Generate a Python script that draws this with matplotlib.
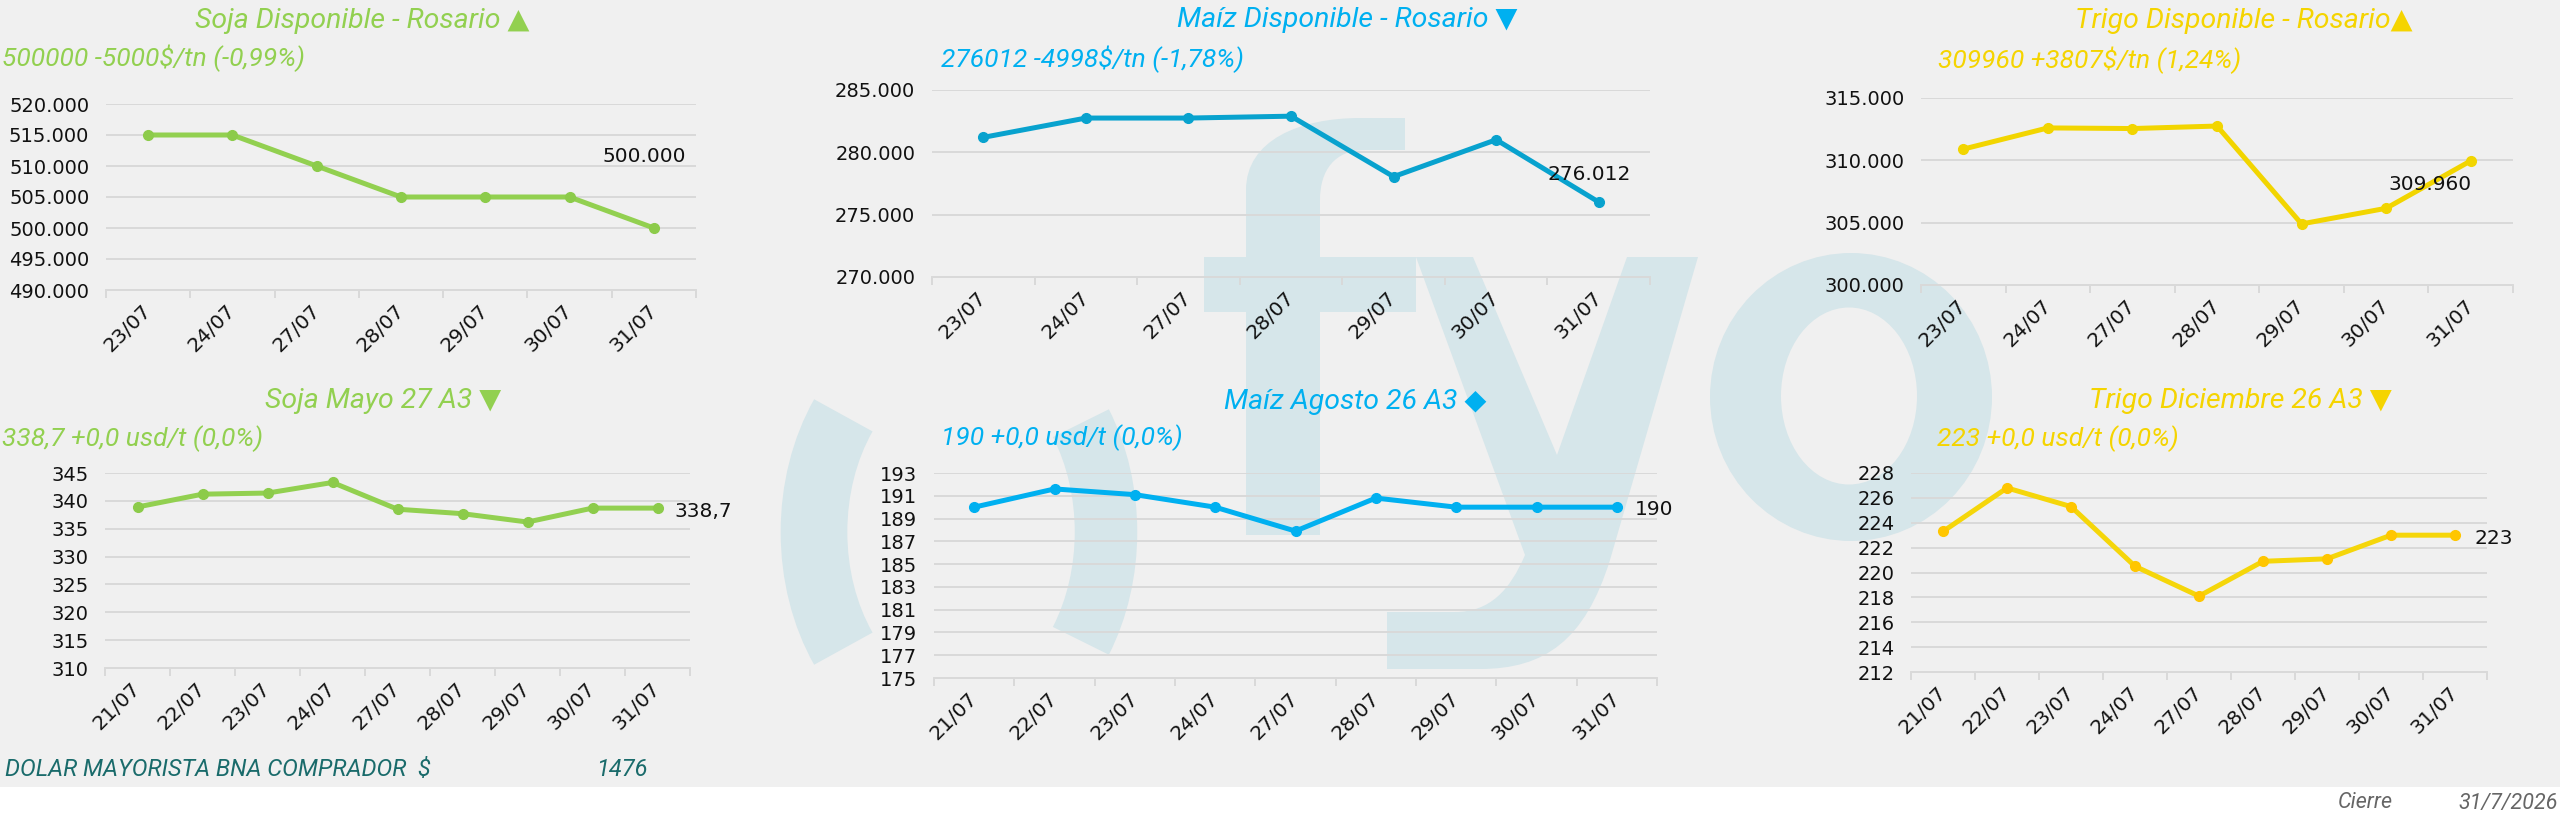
import numpy as np
import matplotlib
matplotlib.use('Agg')
import matplotlib.pyplot as plt
from matplotlib.patches import Rectangle, Ellipse, Arc, PathPatch
from matplotlib.path import Path
from matplotlib.ticker import FuncFormatter

# ---------------- data ----------------
dates_top = ['23/07', '24/07', '27/07', '28/07', '29/07', '30/07', '31/07']
dates_bottom = ['21/07', '22/07', '23/07', '24/07', '27/07', '28/07', '29/07', '30/07', '31/07']

soja_disp = [515000, 515000, 510000, 505000, 505000, 505000, 500000]
maiz_disp = [281200, 282750, 282750, 282900, 278050, 281010, 276012]
trigo_disp = [310900, 312600, 312550, 312750, 304900, 306153, 309960]
soja_mayo27 = [338.9, 341.2, 341.4, 343.3, 338.5, 337.7, 336.2, 338.7, 338.7]
maiz_ago26 = [190.0, 191.6, 191.1, 190.0, 187.9, 190.8, 190.0, 190.0, 190.0]
trigo_dic26 = [223.3, 226.8, 225.3, 220.5, 218.1, 220.9, 221.1, 223.0, 223.0]

titles = ['Soja Disponible - Rosario \u25B2', 'Ma\u00edz Disponible - Rosario \u25BC',
          'Trigo Disponible - Rosario\u25B2', 'Soja Mayo 27 A3 \u25BC',
          'Ma\u00edz Agosto 26 A3 \u25C6', 'Trigo Diciembre 26 A3 \u25BC']
subtitles = ['500000 -5000$/tn (-0,99%)', '276012 -4998$/tn (-1,78%)',
             '309960 +3807$/tn (1,24%)', '338,7 +0,0 usd/t (0,0%)',
             '190 +0,0 usd/t (0,0%)', '223 +0,0 usd/t (0,0%)']
dolar_label = 'DOLAR MAYORISTA BNA COMPRADOR  $'
dolar_value = '1476'
footer_label = 'Cierre'
footer_date = '31/7/2026'

# ---------------- layout ----------------
W, H = 2560, 819
fig = plt.figure(figsize=(W / 100, H / 100), dpi=100)
fig.patch.set_facecolor('white')

BG = '#F0F0F0'
WM = '#D6E6EA'
GRID = '#D9D9D9'
GREEN = '#92D050'
BLUE = '#00B0F0'
BLUE_D = '#08A2CE'
YEL = '#F5D400'
YEL_L = '#F2D500'
TEAL = '#1A6B6B'
FONT = ['Roboto', 'DejaVu Sans']

bg = fig.add_axes([0, 0, 1, 1], zorder=-10)
bg.set_xlim(0, W)
bg.set_ylim(H, 0)
bg.axis('off')
bg.add_patch(Rectangle((0, 0), W, 787, fc=BG, ec='none', zorder=0))

# watermark "( ) fyo"
bg.add_patch(Arc((960, 532), 292, 388, theta1=135, theta2=225, lw=48, color=WM, zorder=1))
bg.add_patch(Arc((960, 532), 292, 388, theta1=-42, theta2=42, lw=45, color=WM, zorder=1))
bg.add_patch(Rectangle((1246, 190), 74, 345, fc=WM, ec='none', zorder=1))
bg.add_patch(Rectangle((1204, 257), 212, 55, fc=WM, ec='none', zorder=1))
hook = Path([(1246, 240), (1246, 190), (1246, 140), (1300, 118), (1360, 118),
             (1405, 118), (1405, 150), (1365, 150), (1335, 150), (1320, 170),
             (1320, 200), (1320, 240), (1246, 240)],
            [Path.MOVETO, Path.LINETO, Path.CURVE4, Path.CURVE4, Path.CURVE4,
             Path.LINETO, Path.LINETO, Path.LINETO, Path.CURVE4, Path.CURVE4,
             Path.CURVE4, Path.LINETO, Path.CLOSEPOLY])
bg.add_patch(PathPatch(hook, fc=WM, ec='none', zorder=1))
ypath = Path([(1416, 257), (1473, 257), (1557, 455), (1627, 257), (1698, 257),
              (1610, 560), (1585, 640), (1545, 669), (1480, 669), (1387, 669),
              (1387, 612), (1455, 612), (1490, 612), (1510, 590), (1525, 555),
              (1416, 257)],
             [Path.MOVETO, Path.LINETO, Path.LINETO, Path.LINETO, Path.LINETO,
              Path.LINETO, Path.CURVE4, Path.CURVE4, Path.CURVE4, Path.LINETO,
              Path.LINETO, Path.LINETO, Path.CURVE4, Path.CURVE4, Path.CURVE4,
              Path.CLOSEPOLY])
bg.add_patch(PathPatch(ypath, fc=WM, ec='none', zorder=1))
bg.add_patch(Ellipse((1851, 397), 282, 288, fc=WM, ec='none', zorder=1))
bg.add_patch(Ellipse((1849, 396), 136, 177, fc=BG, ec='none', zorder=1))


def rect(x0, y0, x1, y1):
    return [x0 / W, 1 - y1 / H, (x1 - x0) / W, (y1 - y0) / H]


def thousands(v, pos=None):
    return f'{int(round(v)):,}'.replace(',', '.')


def integer(v, pos=None):
    return f'{v:.0f}'


def onedec(v, pos=None):
    return f'{v:.1f}'.replace('.', ',')


panels = [
    dict(vals=soja_disp, dates=dates_top, box=(106, 104, 696, 290), ylim=(490000, 520000, 5000),
         fmt=thousands, lfmt=thousands, lc=GREEN, mc='#8CCB4A', off=(-10, 72), ha='center',
         tc=GREEN, tx=362, ty=21, sx=2, sy=58),
    dict(vals=maiz_disp, dates=dates_top, box=(932, 90, 1650, 277), ylim=(270000, 285000, 5000),
         fmt=thousands, lfmt=thousands, lc=BLUE_D, mc=BLUE_D, off=(-10, 28), ha='center',
         tc=BLUE, tx=1347, ty=20, sx=941, sy=59),
    dict(vals=trigo_disp, dates=dates_top, box=(1921, 98, 2513, 285), ylim=(300000, 315000, 5000),
         fmt=thousands, lfmt=thousands, lc=YEL_L, mc=YEL_L, off=(-41, -24), ha='center',
         tc=YEL, tx=2244, ty=21, sx=1938, sy=60),
    dict(vals=soja_mayo27, dates=dates_bottom, box=(105, 473, 690, 668), ylim=(310, 345, 5),
         fmt=integer, lfmt=onedec, lc=GREEN, mc='#8CCB4A', off=(17, -3), ha='left',
         tc=GREEN, tx=383, ty=401, sx=2, sy=439),
    dict(vals=maiz_ago26, dates=dates_bottom, box=(934, 473, 1657, 678), ylim=(175, 193, 2),
         fmt=integer, lfmt=integer, lc=BLUE, mc=BLUE, off=(18, -2), ha='left',
         tc=BLUE, tx=1355, ty=402, sx=941, sy=438),
    dict(vals=trigo_dic26, dates=dates_bottom, box=(1911, 473, 2487, 672), ylim=(212, 228, 2),
         fmt=integer, lfmt=integer, lc='#F5D60A', mc='#FFC600', off=(19, -3), ha='left',
         tc=YEL, tx=2240, ty=401, sx=1937, sy=439),
]

for i, p in enumerate(panels):
    ax = fig.add_axes(rect(*p['box']))
    ax.set_facecolor('none')
    vals = p['vals']
    n = len(vals)
    x = np.arange(n)
    lo, hi, st = p['ylim']
    ax.set_xlim(-0.5, n - 0.5)
    ax.set_ylim(lo, hi)
    ax.set_yticks(np.arange(lo, hi + st / 2, st))
    ax.yaxis.set_major_formatter(FuncFormatter(p['fmt']))
    ax.grid(axis='y', color=GRID, lw=1.4, zorder=0)
    for s in ['top', 'right', 'left']:
        ax.spines[s].set_visible(False)
    ax.spines['bottom'].set_color(GRID)
    ax.spines['bottom'].set_linewidth(1.4)
    ax.tick_params(axis='y', length=0, pad=12, labelsize=14, labelcolor='#111111')
    ax.set_xticks(x, labels=p['dates'], rotation=45, ha='right', va='center',
                  rotation_mode='anchor', fontsize=14.5, color='#111111')
    ax.tick_params(axis='x', which='major', length=0, pad=13)
    ax.set_xticks(np.arange(-0.5, n), minor=True)
    ax.tick_params(axis='x', which='minor', length=6, width=1.4, color=GRID)
    ax.plot(x, vals, color=p['lc'], lw=3.6, marker='o', ms=7, mfc=p['mc'], mec=p['mc'],
            solid_joinstyle='round', solid_capstyle='round', zorder=3, clip_on=False)
    dx, dy = p['off']
    ax.annotate(p['lfmt'](vals[-1]), xy=(x[-1], vals[-1]), xytext=(dx * 0.72, dy * 0.72),
                textcoords='offset points', ha=p['ha'], va='center', fontsize=14.5,
                color='#111111', zorder=4, annotation_clip=False)
    bg.text(p['tx'], p['ty'], titles[i], ha='center', va='center', fontsize=20.5,
            style='italic', color=p['tc'], family=FONT, zorder=5)
    bg.text(p['sx'], p['sy'], subtitles[i], ha='left', va='center', fontsize=19,
            style='italic', weight='normal', color=p['tc'], family=FONT, zorder=5)

bg.text(5, 770, dolar_label, ha='left', va='center', fontsize=17, style='italic',
        color=TEAL, family=FONT, zorder=5)
bg.text(596, 770, dolar_value, ha='left', va='center', fontsize=17, style='italic',
        color=TEAL, family=FONT, zorder=5)
bg.text(2338, 803, footer_label, ha='left', va='center', fontsize=15.5, style='italic',
        color='#666666', family=FONT, zorder=5)
bg.text(2458, 803, footer_date, ha='left', va='center', fontsize=15.5, style='italic',
        color='#666666', family=FONT, zorder=5)

fig.savefig('out.png', dpi=100, facecolor='white')
